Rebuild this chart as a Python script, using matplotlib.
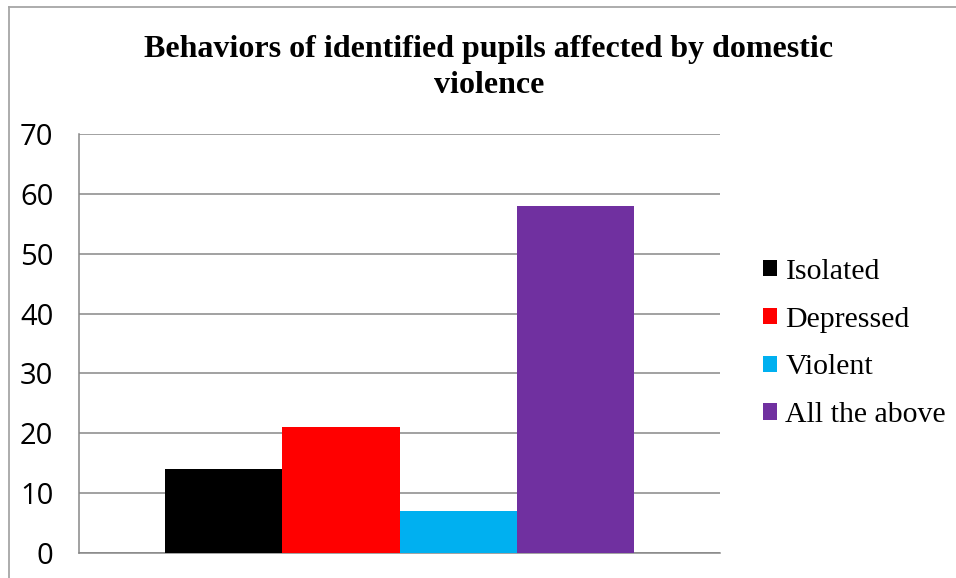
import matplotlib.pyplot as plt
from matplotlib.lines import Line2D
import numpy as np

# ── Data ──────────────────────────────────────────────────────────────────────
categories = ['Isolated', 'Depressed', 'Violent', 'All the above']
values     = [14, 21, 7, 58]
colors     = ['#000000', '#FF0000', '#00B0F0', '#7030A0']
yticks     = [0, 10, 20, 30, 40, 50, 60, 70]
title_lines = ['Behaviors of identified pupils affected by domestic', 'violence']

SERIF = ['Liberation Serif', 'DejaVu Serif']
SANS  = ['Open Sans', 'DejaVu Sans']
GRID  = '#878787'

W, H = 956, 578
fig = plt.figure(figsize=(W / 100, H / 100), dpi=100)
fig.patch.set_facecolor('white')

# plot area in pixel terms -> figure fractions
left, right, top, bottom = 79, 720, 134, 553
ax = fig.add_axes([left / W, 1 - bottom / H, (right - left) / W, (bottom - top) / H])

bar_w = 0.1828
offsets = (np.arange(len(values)) - 1.5) * bar_w
for off, val, col, lab in zip(offsets, values, colors, categories):
    ax.bar(off, val, width=bar_w, color=col, label=lab, zorder=3, linewidth=0)

ax.set_xlim(-0.5, 0.5)
ax.set_ylim(0, 70)
ax.set_yticks(yticks)
ax.set_yticklabels([str(t) for t in yticks], fontsize=21, family=SANS)
ax.set_xticks([])
ax.tick_params(axis='y', length=0, pad=18.5)

ax.grid(axis='y', color=GRID, linewidth=1.1, zorder=0)
for s in ['top', 'right']:
    ax.spines[s].set_visible(False)
for s in ['left', 'bottom']:
    ax.spines[s].set_color(GRID)
    ax.spines[s].set_linewidth(1.1)

# legend
leg = fig.legend(loc='center left', bbox_to_anchor=(763 / W, 1 - 343.5 / H),
                 bbox_transform=fig.transFigure, frameon=False,
                 prop={'family': SERIF, 'size': 21.5},
                 handlelength=0.47, handleheight=0.47, handletextpad=0.28,
                 labelspacing=0.73, borderpad=0, borderaxespad=0)

# title (two centered lines)
fig.text(489 / W, 1 - 57 / H, title_lines[0], ha='center', va='baseline',
         fontsize=23, fontweight='bold', family=SERIF)
fig.text(489 / W, 1 - 93 / H, title_lines[1], ha='center', va='baseline',
         fontsize=23, fontweight='bold', family=SERIF)

# outer chart frame (only left and top edges visible in the crop)
frame_col = '#A6A6A6'
fig.add_artist(Line2D([9 / W, 9 / W], [0, 1 - 7 / H], transform=fig.transFigure,
                      color=frame_col, linewidth=1.3))
fig.add_artist(Line2D([9 / W, 1], [1 - 7 / H, 1 - 7 / H], transform=fig.transFigure,
                      color=frame_col, linewidth=1.3))

plt.savefig('out.png', dpi=100, facecolor='white')
